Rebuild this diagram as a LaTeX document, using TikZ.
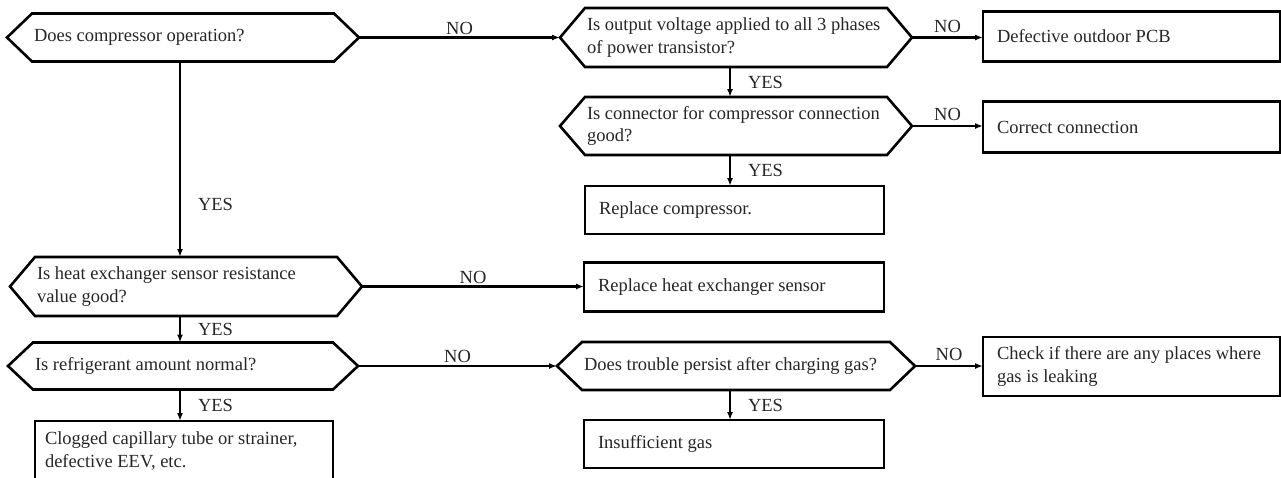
\documentclass[tikz,border=0pt]{standalone}
\usepackage{fontspec}
\setmainfont{Liberation Serif}
\usetikzlibrary{arrows.meta}
\newcommand\hexdraw[1]{%
  \draw[shp] (#1.north west) -- (#1.north east) -- ([xshift=25pt]#1.east) coordinate (#1-e)
    -- (#1.south east) -- (#1.south west) -- ([xshift=-25pt]#1.west) coordinate (#1-w) -- cycle;}
\newcommand\oneline[1]{\mbox{#1}}
\begin{document}
\begin{tikzpicture}[x=1pt,y=-1pt,
  txt/.style={font=\fontsize{18.5}{22.5}\selectfont, text=black!85},
  hexbody/.style={txt, draw=none, outer sep=0pt, inner xsep=2pt, inner ysep=0pt, align=flush left},
  boxnode/.style={txt, draw, line width=2.6pt, outer sep=0pt, inner xsep=14pt, inner ysep=0pt, align=flush left},
  shp/.style={line width=2.6pt, line join=miter},
  arr/.style={line width=2.1pt, -{Latex[length=8pt,width=6pt]}},
  lab/.style={txt, inner sep=2pt}
]
\useasboundingbox (0,0) rectangle (1281,477);
\clip (0,0) rectangle (1281,477);
\coordinate (c1) at (180,0);
\coordinate (c2) at (730,0);

% decision hexagons
\node[hexbody, minimum width=302, minimum height=48, text width=298] (h1) at (183,37.5) {\oneline{Does compressor operation?}};
\node[hexbody, minimum width=302, minimum height=59, text width=298] (h2) at (736,37.5) {\oneline{Is output voltage applied to all 3 phases}\\\oneline{of power transistor?}};
\node[hexbody, minimum width=302, minimum height=58, text width=298] (h3) at (736,126) {\oneline{Is connector for compressor connection}\\\oneline{good?}};
\node[hexbody, minimum width=302, minimum height=59, text width=298] (h4) at (186,286.5) {\oneline{Is heat exchanger sensor resistance}\\\oneline{value good?}};
\node[hexbody, minimum width=300, minimum height=47, text width=296] (h5) at (183,366) {\oneline{Is refrigerant amount normal?}};
\node[hexbody, minimum width=308, minimum height=48, text width=304] (h6) at (736,366) {\oneline{Does trouble persist after charging gas?}};
\hexdraw{h1}
\hexdraw{h2}
\hexdraw{h3}
\hexdraw{h4}
\hexdraw{h5}
\hexdraw{h6}

% result boxes
\node[boxnode, minimum width=297, minimum height=50, text width=269] (b1) at (1131.5,36.5) {\oneline{Defective outdoor PCB}};
\node[boxnode, minimum width=297, minimum height=51, text width=269] (b2) at (1131.5,127) {\oneline{Correct connection}};
\node[boxnode, minimum width=299, minimum height=48, text width=271] (b3) at (734.5,210) {\oneline{Replace compressor.}};
\node[boxnode, minimum width=300, minimum height=49, text width=272] (b4) at (734,287) {\oneline{Replace heat exchanger sensor}};
\node[boxnode, minimum width=300, minimum height=48, text width=272] (b5) at (734,444) {\oneline{Insufficient gas}};
\node[boxnode, minimum width=297, minimum height=59, text width=269] (b6) at (1131.5,366.5) {\oneline{Check if there are any places where}\\\oneline{gas is leaking}};
\node[boxnode, minimum width=298, minimum height=60, text width=278, inner xsep=10pt] (b7) at (184,451) {\oneline{Clogged capillary tube or strainer,}\\\oneline{defective EEV, etc.}};

% NO connectors
\draw[arr] (h1-e) -- node[lab, above] {NO} (h2-w);
\draw[arr] (h2-e) -- node[lab, above=2pt] {NO} (h2-e -| b1.west);
\draw[arr] (h3-e) -- node[lab, above=2pt] {NO} (h3-e -| b2.west);
\draw[arr] (h4-e) -- node[lab, above] {NO} (h4-e -| b4.west);
\draw[arr] (h5-e) -- node[lab, above] {NO} (h6-w);
\draw[arr] (h6-e) -- node[lab, above=2pt] {NO} (h6-e -| b6.west);

% YES connectors
\draw[arr] (h1.south -| c1) -- node[lab, pos=0.73, anchor=west, xshift=17pt, inner sep=0pt] {YES} (h4.north -| c1);
\draw[arr] (h2.south -| c2) -- node[lab, anchor=west, xshift=17pt, inner sep=0pt] {YES} (h3.north -| c2);
\draw[arr] (h3.south -| c2) -- node[lab, anchor=west, xshift=17pt, inner sep=0pt] {YES} (b3.north -| c2);
\draw[arr] (h4.south -| c1) -- node[lab, anchor=west, xshift=17pt, inner sep=0pt] {YES} (h5.north -| c1);
\draw[arr] (h5.south -| c1) -- node[lab, anchor=west, xshift=17pt, inner sep=0pt] {YES} (b7.north -| c1);
\draw[arr] (h6.south -| c2) -- node[lab, anchor=west, xshift=17pt, inner sep=0pt] {YES} (b5.north -| c2);
\end{tikzpicture}
\end{document}
